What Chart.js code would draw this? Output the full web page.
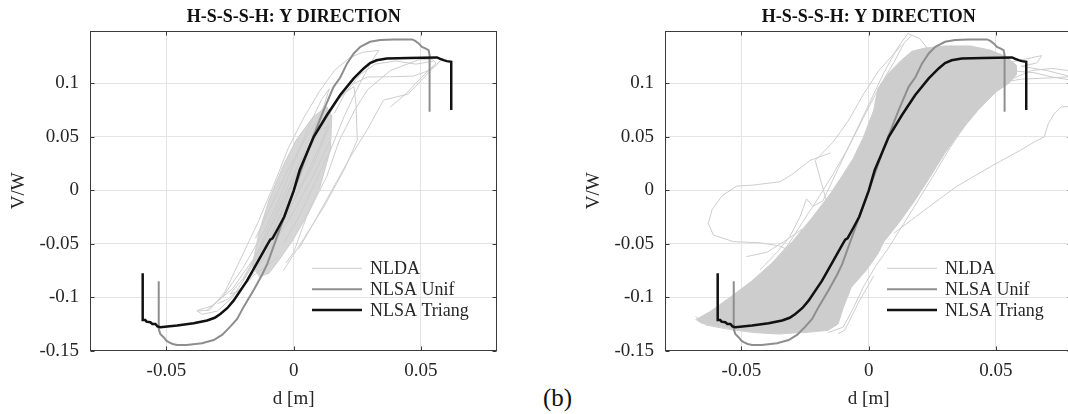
<!DOCTYPE html>
<html>
<head>
<meta charset="utf-8">
<script src="https://cdn.jsdelivr.net/npm/chart.js@4.4.0/dist/chart.umd.min.js"></script>
<style>
  html, body { margin: 0; padding: 0; background: #fff; overflow: hidden; }
  body { width: 1068px; height: 414px; position: relative; font-family: "Liberation Serif", serif; }
  .panel { position: absolute; top: 0; width: 534px; height: 414px; }
  #panelA { left: 0; }
  #panelB { left: 575px; }
  #tag { position: absolute; left: 543px; top: 383px; font-size: 25px; line-height: 30px; color: #111; }
</style>
</head>
<body>
<div class="panel" id="panelA"><canvas id="chartA" width="534" height="414"></canvas></div>
<div class="panel" id="panelB"><canvas id="chartB" width="534" height="414"></canvas></div>
<div id="tag">(b)</div>
<script>
// ---- axis ticks ----
const xTicks = [-0.05, 0, 0.05];
const yTicks = [-0.15, -0.1, -0.05, 0, 0.05, 0.1];
const legendLabels = ['NLDA', 'NLSA Unif', 'NLSA Triang'];
const plotTitle = 'H-S-S-S-H: Y DIRECTION';

// ---- pushover curves (same in both panels) ----
const triangCurve = [
  [-0.0593,-0.0776],[-0.0593,-0.1212],[-0.0583,-0.1212],[-0.0578,-0.1228],[-0.0563,-0.1234],
  [-0.0555,-0.1250],[-0.0543,-0.1250],[-0.0535,-0.1272],[-0.0524,-0.1280],[-0.0458,-0.1265],
  [-0.0393,-0.1243],[-0.0340,-0.1218],[-0.0310,-0.1192],[-0.0288,-0.1156],[-0.0260,-0.1100],
  [-0.0236,-0.1032],[-0.0183,-0.0845],[-0.0137,-0.0651],[-0.0105,-0.0515],[-0.0092,-0.0462],
  [-0.0083,-0.0449],[-0.0060,-0.0350],[-0.0037,-0.0247],[0.0000,-0.0005],[0.0024,0.0190],
  [0.0046,0.0314],[0.0079,0.0501],[0.0131,0.0704],[0.0183,0.0891],[0.0236,0.1047],
  [0.0275,0.1140],[0.0300,0.1190],[0.0326,0.1216],[0.0366,0.1232],[0.0450,0.1238],
  [0.0563,0.1243],[0.0576,0.1230],[0.0589,0.1218],[0.0602,0.1208],[0.0619,0.1202],[0.0619,0.0750]
];
const unifCurve = [
  [-0.0530,-0.0850],[-0.0530,-0.1296],[-0.0524,-0.1343],[-0.0511,-0.1374],[-0.0500,-0.1406],
  [-0.0491,-0.1420],[-0.0475,-0.1437],[-0.0458,-0.1446],[-0.0420,-0.1446],[-0.0360,-0.1430],
  [-0.0314,-0.1400],[-0.0280,-0.1350],[-0.0249,-0.1275],[-0.0222,-0.1203],[-0.0196,-0.1088],
  [-0.0157,-0.0932],[-0.0124,-0.0790],[-0.0104,-0.0690],[-0.0060,-0.0400],[0.0000,-0.0010],
  [0.0060,0.0400],[0.0118,0.0750],[0.0157,0.0968],[0.0183,0.1055],[0.0210,0.1187],
  [0.0236,0.1280],[0.0262,0.1342],[0.0300,0.1389],[0.0340,0.1405],[0.0393,0.1411],
  [0.0465,0.1411],[0.0478,0.1398],[0.0491,0.1374],[0.0504,0.1342],[0.0517,0.1327],
  [0.0530,0.1311],[0.0534,0.1264],[0.0534,0.0735]
];

// ---- NLDA, panel A: dense core outline plus individual loops ----
const nldaCoreA = [
  [-0.0163,-0.0714],[-0.0137,-0.0402],[-0.0097,-0.0091],[-0.0043,0.0221],[0.0010,0.0470],[0.0077,0.0688],
  [0.0130,0.0782],[0.0150,0.0688],[0.0144,0.0377],[0.0104,0.0034],[0.0050,-0.0247],[-0.0003,-0.0464],
  [-0.0057,-0.0651],[-0.0097,-0.0776],[-0.0137,-0.0807]
];
const nldaA = [
  [[-0.038,-0.113],[-0.033,-0.112],[-0.027,-0.095],[-0.022,-0.070],[-0.014,-0.030],[-0.008,0.004],
   [-0.002,0.040],[0.004,0.068],[0.010,0.092],[0.016,0.112],[0.022,0.124],[0.027,0.129],[0.0335,0.131],
   [0.031,0.122],[0.026,0.100],[0.020,0.070],[0.014,0.035],[0.008,0.005],[0.002,-0.025],[-0.004,-0.050]],
  [[-0.020,-0.085],[-0.014,-0.058],[-0.006,-0.020],[0.002,0.018],[0.010,0.055],[0.017,0.083],[0.023,0.099],
   [0.029,0.106],[0.038,0.1062],[0.047,0.1068],[0.052,0.111],[0.056,0.117],[0.0578,0.1215],[0.053,0.110],
   [0.045,0.090],[0.0353,0.0844],[0.0288,0.0563],[0.022,0.030],[0.015,0.000],[0.008,-0.030],[0.002,-0.055]],
  [[-0.003,-0.068],[0.000,-0.058],[0.005,-0.025],[0.013,0.013],[0.018,0.047],[0.024,0.075],[0.029,0.094],
   [0.038,0.112],[0.049,0.122],[0.0545,0.1225],[0.056,0.119],[0.050,0.105],[0.044,0.090],[0.038,0.078]],
  [[-0.010,-0.050],[-0.004,-0.015],[0.004,0.030],[0.012,0.068],[0.018,0.088],[0.0237,0.097],[0.0245,0.080],
   [0.025,0.047],[0.020,0.020],[0.012,-0.015],[0.004,-0.045],[-0.004,-0.075]],
  [[0.006,0.040],[0.000,0.010],[-0.008,-0.030],[-0.016,-0.065],[-0.024,-0.092],[-0.032,-0.108],[-0.038,-0.1125],
   [-0.036,-0.116],[-0.030,-0.113],[-0.024,-0.100],[-0.018,-0.078],[-0.010,-0.045],[-0.002,-0.010],[0.006,0.030]],
  [[0.010,0.060],[0.004,0.030],[-0.004,-0.010],[-0.012,-0.050],[-0.020,-0.083],[-0.025,-0.097],[-0.021,-0.094],
   [-0.015,-0.075],[-0.008,-0.050],[0.000,-0.020],[0.008,0.015],[0.014,0.045]],
  [[-0.015,-0.045],[-0.008,-0.010],[-0.002,0.020],[0.005,0.050],[0.012,0.075],[0.015,0.070],[0.010,0.040],
   [0.003,0.005],[-0.004,-0.030],[-0.010,-0.055],[-0.013,-0.050],[-0.006,-0.015],[0.002,0.025],[0.009,0.055],
   [0.014,0.060],[0.008,0.025],[0.000,-0.010],[-0.008,-0.040]],
  [[-0.034,-0.112],[-0.028,-0.100],[-0.020,-0.073],[-0.012,-0.040],[-0.006,-0.010],[0.000,0.025],
   [0.006,0.060],[0.011,0.085],[0.014,0.095],[0.012,0.080],[0.007,0.050]],
  [[-0.030,-0.106],[-0.026,-0.102],[-0.019,-0.088],[-0.015,-0.078],[-0.010,-0.070],[-0.006,-0.062]],
  [[0.016,0.072],[0.020,0.090],[0.026,0.108],[0.032,0.118],[0.040,0.121],[0.048,0.118],[0.055,0.121]]
];

// ---- NLDA, panel B: outline of the dense band plus loose loops ----
const nldaBandB = [
  [-0.068,-0.121],[-0.062,-0.113],[-0.055,-0.101],[-0.046,-0.085],[-0.038,-0.068],[-0.030,-0.048],
  [-0.022,-0.025],[-0.015,-0.003],[-0.010,0.015],[-0.006,0.030],[-0.002,0.050],[0.002,0.075],[0.0036,0.095],
  [0.008,0.110],[0.013,0.122],[0.017,0.130],[0.022,0.133],[0.030,0.135],[0.040,0.135],[0.048,0.131],
  [0.054,0.125],[0.058,0.117],[0.058,0.108],[0.055,0.100],[0.050,0.092],[0.043,0.075],[0.036,0.055],
  [0.030,0.035],[0.024,0.012],[0.018,-0.010],[0.012,-0.030],[0.006,-0.048],[0.0036,-0.0595],[-0.001,-0.075],
  [-0.0068,-0.0907],[-0.010,-0.110],[-0.012,-0.125],[-0.016,-0.131],[-0.025,-0.133],[-0.038,-0.134],
  [-0.050,-0.131],[-0.060,-0.127],[-0.066,-0.124]
];
const nldaB = [
  [[-0.015,0.035],[-0.023,0.028],[-0.030,0.015],[-0.0348,0.008],[-0.045,0.005],[-0.0518,0.004],[-0.0575,-0.005],
   [-0.0615,-0.018],[-0.063,-0.031],[-0.061,-0.0418],[-0.0532,-0.048],[-0.0427,-0.049],[-0.035,-0.052],[-0.028,-0.060]],
  [[0.010,-0.040],[0.020,-0.022],[0.0344,0.0034],[0.0478,0.022],[0.060,0.038],[0.0652,0.0454],[0.069,0.050],
   [0.0705,0.062],[0.073,0.072],[0.0756,0.078],[0.085,0.079]],
  [[0.040,0.090],[0.050,0.100],[0.060,0.104],[0.070,0.105],[0.085,0.107]],
  [[0.045,0.105],[0.055,0.112],[0.065,0.110],[0.072,0.106],[0.085,0.101]],
  [[0.050,0.118],[0.058,0.121],[0.064,0.124],[0.068,0.126],[0.066,0.119],[0.060,0.116],[0.070,0.112],
   [0.080,0.106],[0.085,0.104]],
  [[-0.066,-0.122],[-0.058,-0.112],[-0.048,-0.092],[-0.040,-0.074],[-0.032,-0.052],[-0.026,-0.030],
   [-0.020,-0.008],[-0.014,0.015],[-0.008,0.040],[-0.002,0.068],[0.004,0.096],[0.010,0.120],[0.014,0.138],[0.017,0.145]],
  [[-0.0427,-0.0745],[-0.036,-0.058],[-0.031,-0.0434],[-0.027,-0.025],[-0.0244,-0.008],[-0.022,-0.015],
   [-0.018,-0.010],[-0.012,0.020],[-0.006,0.050],[0.000,0.080],[0.006,0.110],[0.011,0.132],[0.0154,0.1467],
   [0.020,0.142],[0.024,0.130]],
  [[-0.060,-0.118],[-0.052,-0.110],[-0.044,-0.098],[-0.036,-0.083],[-0.028,-0.062],[-0.022,-0.040],
   [-0.016,-0.015],[-0.021,0.028],[-0.014,0.045],[-0.008,0.065],[-0.002,0.090],[0.004,0.112],[0.010,0.128],[0.013,0.136]],
  [[-0.068,-0.118],[-0.064,-0.126],[-0.055,-0.130],[-0.045,-0.133],[-0.035,-0.1345],[-0.025,-0.132],[-0.018,-0.125]],
  [[-0.016,-0.133],[-0.010,-0.128],[-0.006,-0.110],[-0.002,-0.090],[0.003,-0.070],[0.0075,-0.055],[0.012,-0.038],
   [0.018,-0.015],[0.025,0.012],[0.032,0.040],[0.040,0.068],[0.048,0.090],[0.056,0.104],[0.064,0.112],
   [0.072,0.114],[0.085,0.110]],
  [[-0.012,-0.134],[-0.0094,-0.131],[-0.004,-0.105],[0.002,-0.080]],
  [[-0.048,-0.062],[-0.040,-0.058],[-0.032,-0.046],[-0.026,-0.036]]
];

const SERIF = '"Liberation Serif", "Times New Roman", serif';
const TXT = '#262626';
const AXIS = '#3a3a3a';
const GRID = '#e4e4e4';
const NLDA_COLOR = '#cdcdcd';
const CORE_FILL = '#d6d6d6';
const UNIF_COLOR = '#8e8e8e';
const TRIANG_COLOR = '#111111';

const pts = arr => arr.map(p => ({ x: p[0], y: p[1] }));

function lineSet(data, color, width, order) {
  return { data: pts(data), showLine: true, borderColor: color, borderWidth: width,
           pointRadius: 0, fill: false, tension: 0, order: order };
}

// box around the axes, inward tick marks and the legend
const axesDecor = {
  id: 'axesDecor',
  afterDatasetsDraw(chart) {
    const { ctx, chartArea: a, scales: { x, y } } = chart;
    const L = Math.round(a.left) + 0.5, R = Math.round(a.right) - 0.5;
    const T = Math.round(a.top) + 0.5, B = Math.round(a.bottom) - 0.5;
    ctx.save();
    ctx.strokeStyle = AXIS;
    ctx.lineWidth = 1;
    ctx.strokeRect(L, T, R - L, B - T);
    ctx.beginPath();
    xTicks.forEach(v => {
      const px = Math.round(x.getPixelForValue(v)) + 0.5;
      ctx.moveTo(px, B); ctx.lineTo(px, B - 4);
      ctx.moveTo(px, T); ctx.lineTo(px, T + 4);
    });
    yTicks.forEach(v => {
      const py = Math.round(y.getPixelForValue(v)) + 0.5;
      ctx.moveTo(L, py); ctx.lineTo(L + 4, py);
      ctx.moveTo(R, py); ctx.lineTo(R - 4, py);
    });
    ctx.stroke();
    ctx.restore();
  },
  afterDraw(chart) {
    const { ctx, chartArea: a } = chart;
    const styles = [[NLDA_COLOR, 1], [UNIF_COLOR, 2], [TRIANG_COLOR, 2.5]];
    ctx.save();
    ctx.font = '18px ' + SERIF;
    ctx.textBaseline = 'middle';
    ctx.fillStyle = TXT;
    legendLabels.forEach((lbl, i) => {
      const yy = a.top + 237.3 + i * 20.9;
      ctx.strokeStyle = styles[i][0];
      ctx.lineWidth = styles[i][1];
      ctx.beginPath();
      ctx.moveTo(a.left + 222, yy);
      ctx.lineTo(a.left + 272, yy);
      ctx.stroke();
      ctx.fillText(lbl, a.left + 280, yy + 1);
    });
    ctx.restore();
  }
};

function makeChart(id, loops, band, bandFill) {
  const datasets = [
    lineSet(triangCurve, TRIANG_COLOR, 2.5, 1),
    lineSet(unifCurve, UNIF_COLOR, 2, 2)
  ];
  loops.forEach(l => datasets.push(lineSet(l, NLDA_COLOR, 1, 3)));
  const d = lineSet(band, NLDA_COLOR, 1, 4);
  d.fill = 'shape';
  d.backgroundColor = bandFill;
  datasets.push(d);
  return new Chart(document.getElementById(id), {
    type: 'scatter',
    data: { datasets },
    plugins: [axesDecor],
    options: {
      responsive: false,
      animation: false,
      layout: { padding: { left: 0, right: 36.7, top: 0, bottom: 0 } },
      plugins: {
        legend: { display: false },
        tooltip: { enabled: false },
        title: {
          display: true, text: plotTitle, fullSize: false, color: '#111',
          font: { family: SERIF, size: 18, weight: 'bold', lineHeight: 1.2 },
          padding: { top: 6.5, bottom: 2.9 }
        }
      },
      scales: {
        x: {
          type: 'linear', min: -0.08, max: 0.08,
          afterBuildTicks: s => { s.ticks = xTicks.map(v => ({ value: v })); },
          afterFit: s => { s.height = 63.3; },
          grid: { color: GRID, drawTicks: false },
          border: { display: false },
          ticks: { padding: 9, color: TXT, font: { family: SERIF, size: 19 }, callback: v => String(v) },
          title: { display: true, text: 'd [m]', color: TXT, font: { family: SERIF, size: 19 },
                   padding: { top: 0, bottom: 3.6 } }
        },
        y: {
          type: 'linear', min: -0.15, max: 0.149,
          afterBuildTicks: s => { s.ticks = yTicks.map(v => ({ value: v })); },
          afterFit: s => { s.width = 90; },
          grid: { color: GRID, drawTicks: false },
          border: { display: false },
          ticks: { padding: 11, color: TXT, font: { family: SERIF, size: 19 }, callback: v => String(v) },
          title: { display: true, text: 'V/W', color: TXT, font: { family: SERIF, size: 19 },
                   padding: { top: 7.6, bottom: 0 } }
        }
      }
    }
  });
}

makeChart('chartA', nldaA, nldaCoreA, CORE_FILL);
makeChart('chartB', nldaB, nldaBandB, NLDA_COLOR);
</script>
</body>
</html>
